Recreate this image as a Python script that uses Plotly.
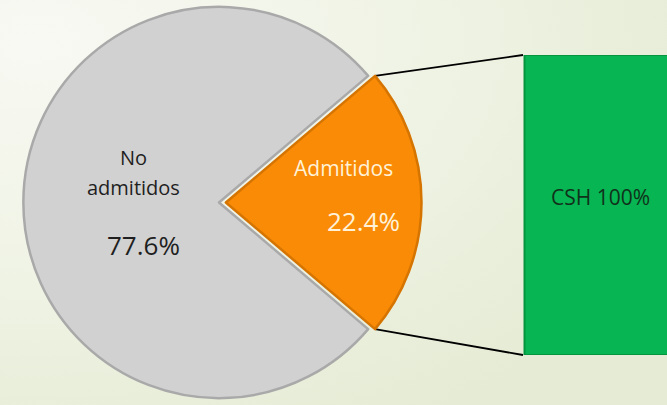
import math
import urllib.parse
import plotly.graph_objects as go

W, H = 667, 405

# ---- data ----
pie_labels = ["Admitidos", "No admitidos"]
pie_values = [22.4, 77.6]
bar_categories = ["CSH"]
bar_values = [100]

# ---- styles ----
pie_colors = ["#f98b06", "#d1d1d1"]
pie_line_colors = ["#d67400", "#a9a9a9"]
pie_text_colors = ["#fff2d8", "#1f1f1f"]
bar_color = "#07b552"
bar_line = "#05953f"
FONT = "Open Sans"
pull_admitidos = 0.035

pie_dom_x = [0.0247, 0.632]
pie_dom_y = [0.0, 1.0]
bar_dom_x = [0.7841, 1.0]
bar_dom_y = [1 - 355 / H, 1 - 55 / H]

fig = go.Figure()

total = sum(pie_values)
half_angle = pie_values[0] / total * 360 / 2

fig.add_trace(go.Pie(
    labels=pie_labels, values=pie_values, sort=False, direction="clockwise",
    rotation=90 - half_angle, pull=[pull_admitidos, 0],
    marker=dict(colors=pie_colors, line=dict(color=pie_line_colors, width=2.5)),
    textinfo="none", hoverinfo="label+percent", showlegend=False,
    domain=dict(x=pie_dom_x, y=pie_dom_y),
))

fig.add_trace(go.Bar(
    x=bar_categories, y=bar_values, width=1,
    marker=dict(color=bar_color, line=dict(color=bar_line, width=2)),
    xaxis="x", yaxis="y", showlegend=False, hoverinfo="x+y",
))

# ---- geometry derived from the pie and bar domains ----
box_w = W * (pie_dom_x[1] - pie_dom_x[0])
box_h = H * (pie_dom_y[1] - pie_dom_y[0])
r = min(box_w, box_h) / 2 / (1 + pull_admitidos)
cx = W * (pie_dom_x[0] + pie_dom_x[1]) / 2
cy = H * (1 - (pie_dom_y[0] + pie_dom_y[1]) / 2)
ox = cx + pull_admitidos * r
a = math.radians(half_angle)
top_pt = (ox + r * math.cos(a), cy - r * math.sin(a))
bot_pt = (ox + r * math.cos(a), cy + r * math.sin(a))
bar_left = W * bar_dom_x[0]
bar_top = H * (1 - bar_dom_y[1])
bar_bot = H * (1 - bar_dom_y[0])

fig.add_trace(go.Scatter(
    x=[top_pt[0], bar_left, None, bot_pt[0], bar_left],
    y=[top_pt[1], bar_top, None, bot_pt[1], bar_bot],
    mode="lines", line=dict(color="#000000", width=1.8),
    xaxis="x2", yaxis="y2", showlegend=False, hoverinfo="skip",
))

ann = []
# No admitidos label (left side of pie)
w1, w2 = pie_labels[1].split(" ", 1)
ann.append(dict(x=133, y=157, text=w1, font=dict(size=20, color=pie_text_colors[1])))
ann.append(dict(x=133, y=187, text=w2, font=dict(size=20, color=pie_text_colors[1])))
ann.append(dict(x=143, y=245, text=f"{pie_values[1]:.1f}%", font=dict(size=26, color=pie_text_colors[1])))
# Admitidos label
ann.append(dict(x=343, y=168, text=pie_labels[0], font=dict(size=21, color=pie_text_colors[0])))
ann.append(dict(x=363, y=221, text=f"{pie_values[0]:.1f}%", font=dict(size=26, color=pie_text_colors[0])))
# bar label
ann.append(dict(x=600, y=197, text=f"{bar_categories[0]} {bar_values[0]}%", font=dict(size=21, color="#10321b")))
for d in ann:
    d.update(xref="x2", yref="y2", showarrow=False, xanchor="center", yanchor="middle")
    d["font"]["family"] = FONT

# soft background gradient (decoration only)
svg = (
    "<svg xmlns='http://www.w3.org/2000/svg' width='667' height='405' preserveAspectRatio='none'>"
    "<defs><radialGradient id='g' cx='0.05' cy='0.1' r='1.1'>"
    "<stop offset='0' stop-color='#f8f9f3'/><stop offset='0.55' stop-color='#eff3e4'/>"
    "<stop offset='1' stop-color='#e5ebd4'/></radialGradient></defs>"
    "<rect width='667' height='405' fill='url(#g)'/></svg>"
)
bg_src = "data:image/svg+xml;charset=utf-8," + urllib.parse.quote(svg)

fig.update_layout(
    width=W, height=H,
    margin=dict(l=0, r=0, t=0, b=0),
    paper_bgcolor="#eef2e2", plot_bgcolor="rgba(0,0,0,0)",
    font=dict(family=FONT),
    xaxis=dict(domain=bar_dom_x, range=[-0.51, 0.435], visible=False, fixedrange=True, anchor="y"),
    yaxis=dict(domain=bar_dom_y, range=[0, 100], visible=False, fixedrange=True, anchor="x"),
    xaxis2=dict(domain=[0, 1], range=[0, W], visible=False, fixedrange=True, anchor="y2"),
    yaxis2=dict(domain=[0, 1], range=[H, 0], visible=False, fixedrange=True, anchor="x2"),
    annotations=ann,
    images=[dict(source=bg_src, xref="paper", yref="paper", x=0, y=1, sizex=1, sizey=1,
                 sizing="stretch", layer="below", xanchor="left", yanchor="top")],
    showlegend=False,
)

fig.write_html("out.html", config={"displayModeBar": False},
               post_script="document.body.style.margin='0';document.body.style.padding='0';")
